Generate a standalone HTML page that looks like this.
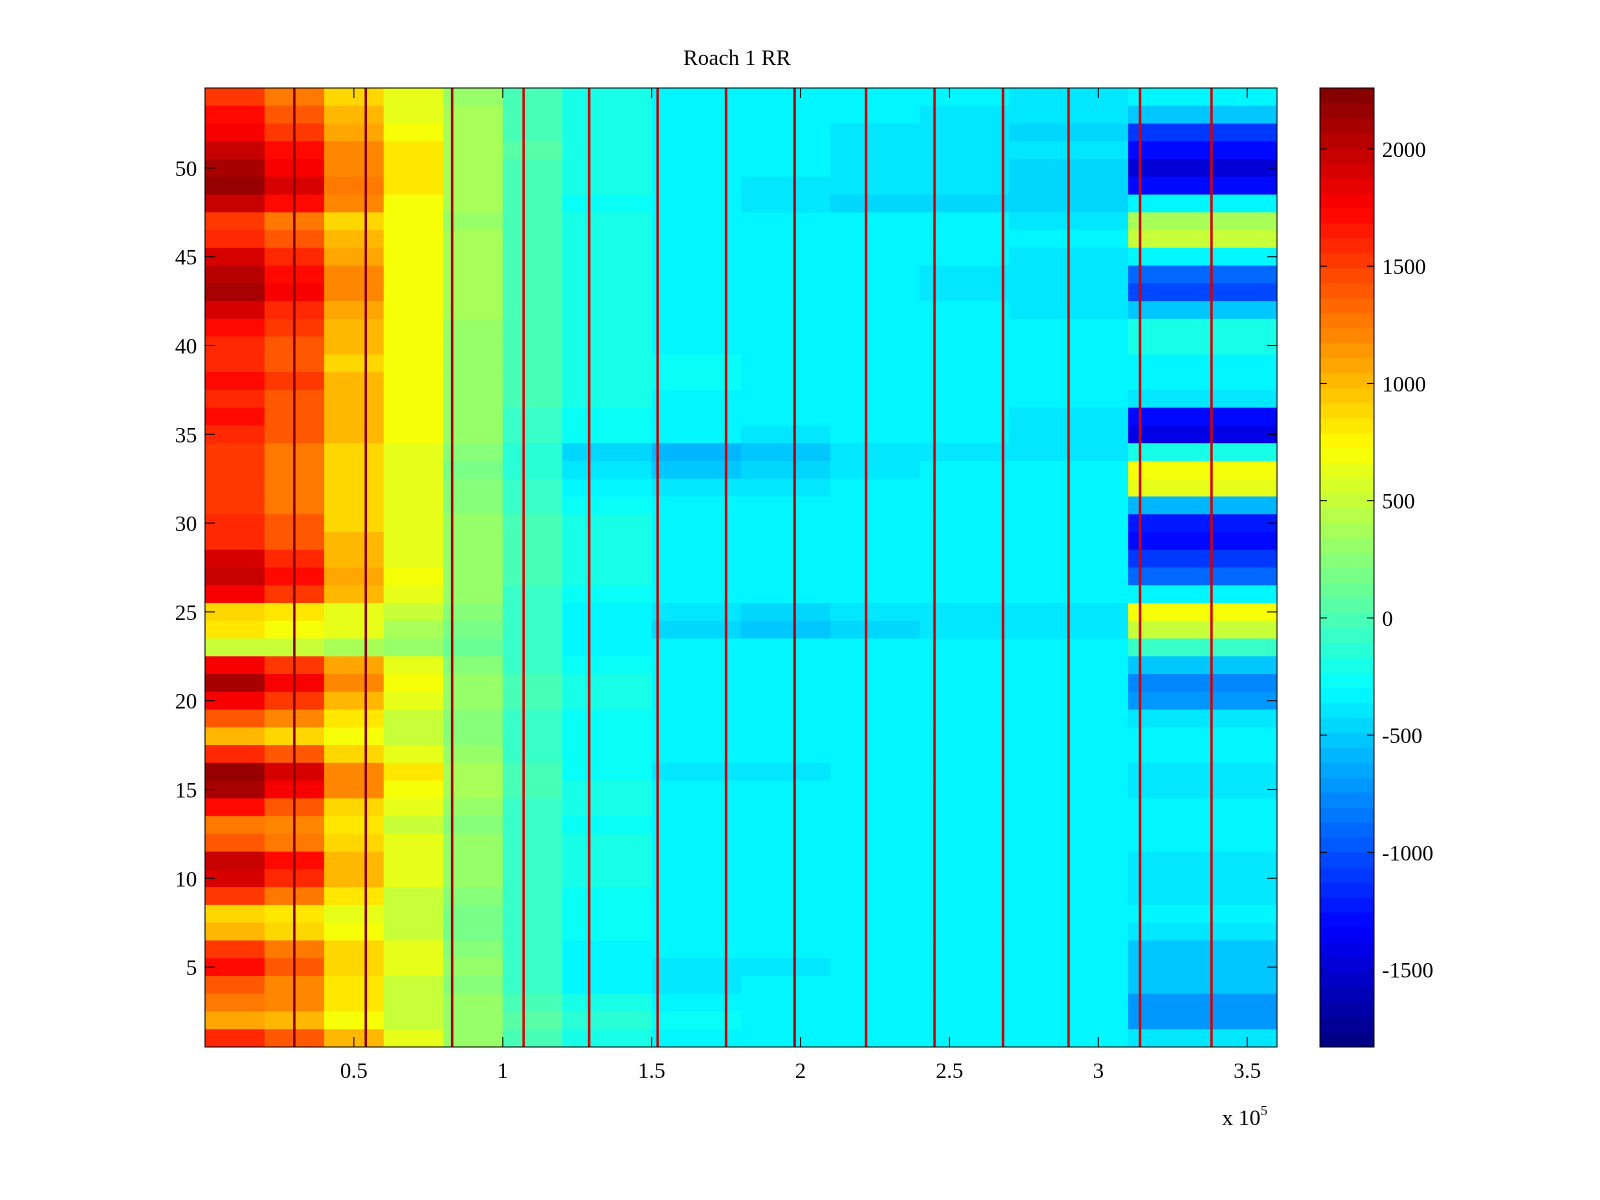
<!DOCTYPE html>
<html><head><meta charset="utf-8"><style>
html,body{margin:0;padding:0;background:#fff;width:1600px;height:1200px;overflow:hidden}
text{font-family:"Liberation Serif",serif;font-size:22px;fill:#000}
</style></head><body>
<svg id="chart" width="1600" height="1200" xmlns="http://www.w3.org/2000/svg">
<text x="737" y="65" text-anchor="middle">Roach 1 RR</text>
<g id="cells"></g>
<g id="spikes"></g>
<g id="cbar"></g>
<g id="axes"></g>
</svg>
<script>
// column edges (x units) and values, rows listed from row 54 (top) down to row 1
const colEdges = [0,20000,40000,60000,80000,100000,120000,150000,180000,210000,240000,270000,310000,360000];
const rowValues = [
[1500,1300,900,600,300,0,-200,-300,-300,-300,-350,-400,-300],
[1700,1400,1000,600,350,0,-200,-300,-350,-350,-400,-400,-500],
[1800,1500,1100,700,400,0,-200,-300,-350,-400,-400,-450,-1100],
[2000,1700,1200,800,400,50,-200,-300,-350,-400,-400,-400,-1300],
[2100,1800,1200,800,400,0,-200,-350,-350,-400,-400,-450,-1500],
[2150,1900,1300,800,400,0,-200,-350,-400,-400,-400,-450,-1300],
[2000,1700,1200,700,350,0,-250,-350,-400,-450,-450,-450,-300],
[1500,1300,900,700,300,0,-200,-300,-350,-350,-350,-400,400],
[1600,1400,1000,700,350,0,-200,-300,-300,-350,-350,-350,500],
[1900,1600,1100,700,350,0,-200,-300,-300,-350,-350,-400,-300],
[2050,1700,1200,700,350,0,-200,-300,-350,-350,-400,-400,-900],
[2100,1800,1200,700,350,0,-200,-300,-350,-350,-400,-400,-1000],
[1900,1600,1100,700,350,0,-200,-300,-300,-350,-350,-400,-500],
[1700,1500,1000,700,300,0,-200,-300,-300,-300,-350,-350,-200],
[1600,1400,1000,700,300,0,-200,-300,-300,-300,-300,-350,-200],
[1600,1400,900,700,300,0,-200,-250,-300,-300,-300,-350,-300],
[1700,1500,1000,700,300,0,-200,-250,-300,-300,-300,-350,-300],
[1600,1400,1000,700,300,0,-200,-300,-300,-300,-350,-350,-400],
[1700,1400,1000,700,300,-50,-250,-300,-350,-350,-350,-400,-1300],
[1600,1400,1000,700,300,-50,-250,-350,-400,-350,-350,-400,-1400],
[1500,1300,900,600,250,-150,-450,-600,-500,-400,-400,-400,-200],
[1500,1300,900,600,200,-150,-400,-500,-450,-400,-350,-350,700],
[1500,1300,900,600,250,-100,-350,-400,-400,-350,-350,-350,600],
[1500,1300,900,600,250,-50,-250,-300,-300,-300,-300,-350,-600],
[1600,1400,900,600,300,0,-200,-300,-300,-300,-300,-350,-1200],
[1600,1400,1000,600,300,0,-200,-300,-300,-300,-300,-350,-1300],
[1900,1600,1000,600,300,0,-200,-300,-300,-300,-300,-350,-1100],
[2000,1700,1100,700,300,0,-200,-300,-300,-300,-300,-350,-900],
[1800,1500,1000,600,300,-50,-250,-300,-350,-350,-350,-350,-300],
[900,800,600,500,250,-100,-300,-400,-450,-400,-400,-400,700],
[800,700,600,400,200,-100,-350,-450,-500,-450,-400,-400,500],
[500,500,400,300,150,-100,-300,-300,-350,-350,-300,-300,-100],
[1800,1500,1100,600,250,-50,-250,-300,-350,-350,-350,-350,-500],
[2100,1800,1200,700,300,0,-200,-300,-300,-300,-300,-350,-800],
[1800,1500,1000,600,300,0,-200,-300,-300,-300,-300,-350,-700],
[1400,1200,800,500,250,-50,-250,-300,-300,-300,-300,-350,-400],
[1000,900,700,500,250,-50,-250,-300,-300,-300,-300,-350,-300],
[1600,1400,900,600,300,-50,-250,-300,-300,-300,-300,-350,-300],
[2150,1900,1200,800,400,0,-250,-400,-400,-350,-350,-350,-400],
[2100,1800,1200,700,400,0,-200,-350,-350,-350,-350,-350,-400],
[1700,1400,900,600,300,-50,-200,-300,-300,-300,-300,-350,-300],
[1300,1200,800,500,250,-50,-250,-300,-300,-300,-300,-350,-300],
[1400,1300,900,600,300,-50,-200,-300,-300,-300,-300,-300,-300],
[2000,1700,1000,600,300,-50,-200,-350,-350,-300,-300,-300,-400],
[1900,1600,1000,600,300,-50,-200,-350,-350,-300,-300,-300,-400],
[1500,1300,800,500,250,-100,-250,-300,-300,-300,-300,-350,-400],
[900,800,600,500,200,-100,-250,-300,-300,-300,-300,-350,-300],
[1000,900,700,500,200,-100,-250,-300,-300,-300,-300,-350,-400],
[1500,1300,900,600,250,-100,-300,-350,-350,-350,-350,-350,-500],
[1700,1400,900,600,300,-100,-300,-400,-400,-350,-350,-350,-500],
[1400,1200,800,500,250,-100,-300,-400,-350,-350,-350,-350,-500],
[1300,1200,800,500,300,0,-200,-300,-300,-300,-300,-350,-700],
[1100,1000,700,500,300,50,-150,-250,-300,-300,-300,-350,-700],
[1600,1400,1000,600,300,0,-200,-300,-300,-300,-300,-350,-400]
];
const spikeX = [30000,54000,83000,107000,129000,152000,175000,198000,222000,245000,268000,290000,314000,338000];
const spikeVals = [2200,2200,2100,1900,1900,2000,1900,2100,1900,2000,2000,1900,1900,1900];
const xTicks = [0.5,1,1.5,2,2.5,3,3.5];
const yTicks = [5,10,15,20,25,30,35,40,45,50];
const cTicks = [2000,1500,1000,500,0,-500,-1000,-1500];

const PL=205,PR=1277,PT=88,PB=1047;
const X0=0,X1=360000,Y0=0.5,Y1=54.5,C0=-1830,C1=2260;
const xs=v=>PL+(v-X0)/(X1-X0)*(PR-PL);
const ys=v=>PB-(v-Y0)/(Y1-Y0)*(PB-PT);
const CBL=1320,CBR=1374;
const cs=v=>PB-(v-C0)/(C1-C0)*(PB-PT);
function jet(v){
  let t=(v-C0)/(C1-C0); t=Math.max(0,Math.min(1,t));
  t=(Math.floor(t*63.999)+0.5)/64;
  const f=x=>Math.max(0,Math.min(1,1.5-Math.abs(4*t-x)));
  return `rgb(${Math.round(255*f(3))},${Math.round(255*f(2))},${Math.round(255*f(1))})`;
}
const NS='http://www.w3.org/2000/svg';
function mk(tag,attrs,parent){const e=document.createElementNS(NS,tag);for(const k in attrs)e.setAttribute(k,attrs[k]);parent.appendChild(e);return e;}
const cells=document.getElementById('cells');
rowValues.forEach((row,i)=>{
  const r=54-i;
  row.forEach((v,j)=>{
    const x=xs(colEdges[j]),w=xs(colEdges[j+1])-x;
    const el=mk('rect',{x:x,y:ys(r+0.5),width:w+0.5,height:ys(r-0.5)-ys(r+0.5)+0.5,fill:jet(v)},cells);
    
    
  });
});
const sp=document.getElementById('spikes');
spikeX.forEach((sx,i)=>{
  const el=mk('rect',{x:xs(sx)-1.25,y:PT,width:2.5,height:PB-PT,fill:jet(spikeVals[i])},sp);
  
  
});
const cb=document.getElementById('cbar');
for(let k=0;k<64;k++){
  const v0=C0+k*(C1-C0)/64,v1=C0+(k+1)*(C1-C0)/64;
  const el=mk('rect',{x:CBL,y:cs(v1),width:CBR-CBL,height:cs(v0)-cs(v1)+0.5,fill:jet((v0+v1)/2)},cb);
  
  
}
mk('rect',{x:CBL,y:PT,width:CBR-CBL,height:PB-PT,fill:'none',stroke:'#000','stroke-width':1},cb);
cTicks.forEach(t=>{
  const y=cs(t);
  mk('line',{x1:CBL,x2:CBL+7,y1:y,y2:y,stroke:'#000'},cb);
  mk('line',{x1:CBR-7,x2:CBR,y1:y,y2:y,stroke:'#000'},cb);
  const tx=mk('text',{x:CBR+8,y:y+8},cb);tx.textContent=t;
  
  
});
const ax=document.getElementById('axes');
mk('rect',{x:PL,y:PT,width:PR-PL,height:PB-PT,fill:'none',stroke:'#000','stroke-width':1},ax);
xTicks.forEach(t=>{
  const x=xs(t*1e5);
  mk('line',{x1:x,x2:x,y1:PB,y2:PB-10,stroke:'#000'},ax);
  mk('line',{x1:x,x2:x,y1:PT,y2:PT+10,stroke:'#000'},ax);
  const tx=mk('text',{x:x,y:PB+31,'text-anchor':'middle'},ax);tx.textContent=t;
  
  
});
yTicks.forEach(t=>{
  const y=ys(t);
  mk('line',{x1:PL,x2:PL+10,y1:y,y2:y,stroke:'#000'},ax);
  mk('line',{x1:PR-10,x2:PR,y1:y,y2:y,stroke:'#000'},ax);
  const tx=mk('text',{x:PL-8,y:y+8,'text-anchor':'end'},ax);tx.textContent=t;
  
  
});
const ex=mk('text',{x:1222,y:1125},ax);


ex.innerHTML='x 10<tspan dy="-10" style="font-size:14px">5</tspan>';
</script>
</body></html>
